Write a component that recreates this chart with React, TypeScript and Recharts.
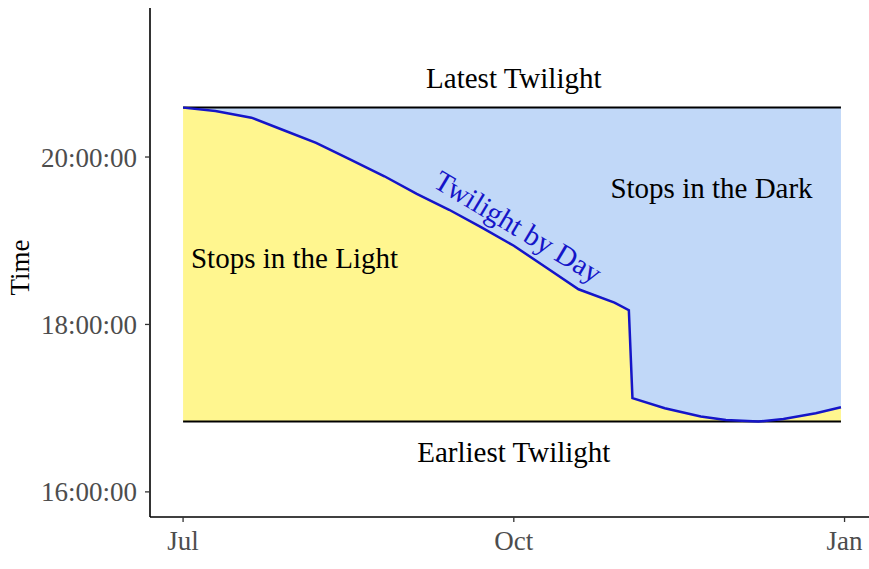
import React from "react";
import { ComposedChart, Area, Line, XAxis, YAxis, ReferenceDot } from "recharts";

// days since Jul 1, and civil twilight end (decimal hours)
const days = [0, 9, 19, 28, 37, 46, 56, 65, 74, 83, 92, 101, 110, 120, 124, 125, 134, 144, 151, 160, 167, 176, 183];
const twilightHours = [
  20.59, 20.55, 20.47, 20.32, 20.17, 19.98, 19.77, 19.56, 19.37, 19.16, 18.94, 18.68,
  18.42, 18.26, 18.17, 17.12, 17.0, 16.9, 16.86, 16.84, 16.87, 16.94, 17.01,
];
const LATEST = 20.59;
const EARLIEST = 16.84;

const monthTicks = [0, 92, 184];
const monthNames = ["Jul", "Oct", "Jan"];
const hourTicks = [16, 18, 20];

const table = days.map((d, i) => ({
  day: d,
  twilight: twilightHours[i],
  light: [EARLIEST, twilightHours[i]],
  dark: [twilightHours[i], LATEST],
  latest: LATEST,
  earliest: EARLIEST,
}));

const FONT = "'Liberation Serif', 'Times New Roman', serif";
const tickStyle = { fill: "#4d4d4d", fontSize: 27, fontFamily: FONT };

const fmtHour = (v: number) => `${String(Math.round(v)).padStart(2, "0")}:00:00`;

// text note placed at a data point
function note(text: string, color = "#000", angle = 0) {
  return (p: any) => (
    <text
      x={p.cx}
      y={p.cy}
      textAnchor="middle"
      dominantBaseline="central"
      fill={color}
      fontSize={29}
      fontFamily={FONT}
      transform={angle ? `rotate(${angle} ${p.cx} ${p.cy})` : undefined}
    >
      {text}
    </text>
  );
}

export default function App() {
  return (
    <div style={{ position: "absolute", left: 0, top: 0, background: "#fff" }}>
      <ComposedChart width={869} height={569} data={table} margin={{ top: 8, right: 0, bottom: 0, left: 0 }}>
        <XAxis
          type="number"
          dataKey="day"
          domain={[-9.2, 190.8]}
          allowDataOverflow
          ticks={monthTicks}
          tickFormatter={(v) => monthNames[monthTicks.indexOf(v)]}
          height={52}
          axisLine={{ stroke: "#000", strokeWidth: 1.6 }}
          tickLine={{ stroke: "#333", strokeWidth: 1.3 }}
          tickSize={5}
          tickMargin={9}
          tick={tickStyle}
        />
        <YAxis
          type="number"
          domain={[15.7, 21.78]}
          allowDataOverflow
          ticks={hourTicks}
          tickFormatter={fmtHour}
          width={150}
          axisLine={{ stroke: "#000", strokeWidth: 1.6 }}
          tickLine={{ stroke: "#333", strokeWidth: 1.3 }}
          tickSize={5}
          tickMargin={8}
          tick={tickStyle}
          label={{
            content: (p: any) => {
              const vb = p.viewBox;
              const x = vb.x + 20;
              const y = vb.y + vb.height / 2 + 5;
              return (
                <text
                  x={x}
                  y={y}
                  transform={`rotate(-90 ${x} ${y})`}
                  textAnchor="middle"
                  dominantBaseline="central"
                  fontSize={27}
                  fontFamily={FONT}
                  fill="#000"
                >
                  Time
                </text>
              );
            },
          }}
        />
        <Area dataKey="light" type="linear" fill="#fff68f" fillOpacity={1} stroke="none" isAnimationActive={false} />
        <Area dataKey="dark" type="linear" fill="#c1d8f8" fillOpacity={1} stroke="none" isAnimationActive={false} />
        <Line dataKey="latest" type="linear" stroke="#000" strokeWidth={2} dot={false} isAnimationActive={false} />
        <Line dataKey="earliest" type="linear" stroke="#000" strokeWidth={2} dot={false} isAnimationActive={false} />
        <Line dataKey="twilight" type="linear" stroke="#1515c8" strokeWidth={2.5} dot={false} isAnimationActive={false} />
        <ReferenceDot x={92} y={20.94} r={0} shape={note("Latest Twilight")} />
        <ReferenceDot x={92} y={16.48} r={0} shape={note("Earliest Twilight")} />
        <ReferenceDot x={31} y={18.79} r={0} shape={note("Stops in the Light")} />
        <ReferenceDot x={147} y={19.63} r={0} shape={note("Stops in the Dark")} />
        <ReferenceDot x={93.2} y={19.17} r={0} shape={note("Twilight by Day", "#1515c8", 31)} />
      </ComposedChart>
    </div>
  );
}
